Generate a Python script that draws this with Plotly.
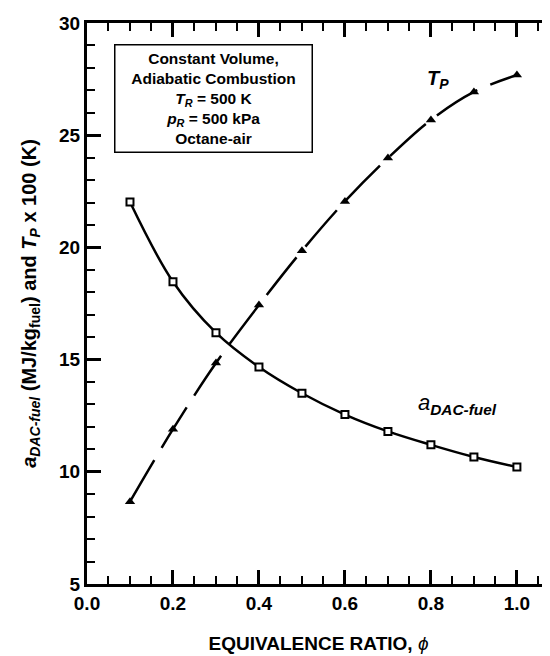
import plotly.graph_objects as go

phi = [0.1, 0.2, 0.3, 0.4, 0.5, 0.6, 0.7, 0.8, 0.9, 1.0]
a_dac_fuel = [22.02, 18.47, 16.2, 14.67, 13.5, 12.55, 11.8, 11.2, 10.66, 10.21]
tp_x100 = [8.67, 11.9, 14.85, 17.43, 19.85, 22.05, 23.98, 25.68, 26.93, 27.68]

box_lines = [
    "Constant Volume,",
    "Adiabatic Combustion",
    "<i>T</i><sub><i>R</i></sub> = 500 K",
    "<i>p</i><sub><i>R</i></sub> = 500 kPa",
    "Octane-air",
]

x_range = [0, 1.077]
y_range = [5, 30]

FONT = "Liberation Sans, Arial, Helvetica, sans-serif"

fig = go.Figure()
fig.add_trace(go.Scatter(
    x=phi, y=a_dac_fuel, mode="lines+markers",
    line=dict(color="black", width=2.5, shape="spline"),
    marker=dict(symbol="square", size=7, color="white", line=dict(color="black", width=2)),
    showlegend=False,
))
fig.add_trace(go.Scatter(
    x=phi, y=tp_x100, mode="lines+markers", yaxis="y2",
    line=dict(color="black", width=2.5, shape="spline", dash="48px,14px"),
    marker=dict(symbol="triangle-up", size=9, color="black"),
    showlegend=False,
))

axis_common = dict(
    showline=True, linecolor="black", linewidth=3,
    ticks="inside", ticklen=14, tickwidth=3, tickcolor="black",
    showgrid=False, zeroline=False, automargin=False,
    tickfont=dict(family=FONT, size=19, color="black", weight="bold"),
)

# the page body adds an 8px offset; margins compensate so the plot area
# sits at the same place as in the reference
fig.update_layout(
    width=550, height=656,
    margin=dict(l=79, r=8, t=15, b=80),
    plot_bgcolor="white", paper_bgcolor="white",
    font=dict(family=FONT, color="black"),
    xaxis=dict(
        range=x_range, dtick=0.2, tick0=0, tickformat=".1f", mirror="ticks",
        minor=dict(dtick=0.05, ticks="inside", ticklen=8, tickwidth=2, tickcolor="black"),
        title=dict(text="<b>EQUIVALENCE RATIO,</b> <i>ϕ</i>",
                   font=dict(family=FONT, size=19, color="black"), standoff=24),
        **axis_common,
    ),
    yaxis=dict(
        range=y_range, dtick=5, tick0=5, mirror=False,
        minor=dict(dtick=1, ticks="inside", ticklen=8, tickwidth=2, tickcolor="black"),
        title=dict(text="<b><i>a</i><sub><i>DAC-fuel</i></sub> (MJ/kg<sub>fuel</sub>) and <i>T</i><sub><i>P</i></sub> x 100 (K)</b>",
                   font=dict(family=FONT, size=20, color="black"), standoff=18),
        **axis_common,
    ),
    yaxis2=dict(
        range=y_range, dtick=5, tick0=5, overlaying="y", side="right", anchor="x",
        ticks="inside", ticklen=5, tickwidth=3, tickcolor="black", automargin=False,
        showticklabels=False, showline=False, showgrid=False, zeroline=False,
    ),
)

fig.add_annotation(
    xref="paper", yref="paper", x=0.0583, y=0.9626, xanchor="left", yanchor="top",
    text="<b>" + "<br>".join(box_lines) + "</b>",
    showarrow=False, align="center", valign="middle", width=186, height=96,
    font=dict(family=FONT, size=15.5, color="black"),
    bordercolor="black", borderwidth=1.5, borderpad=5, bgcolor="white",
)
fig.add_annotation(
    x=0.816, y=27.5, text="<b><i>T</i><sub><i>P</i></sub></b>", showarrow=False,
    font=dict(family=FONT, size=20, color="black"),
)
fig.add_annotation(
    x=0.862, y=13.0, text="<i>a</i><b><sub><i>DAC-fuel</i></sub></b>", showarrow=False,
    font=dict(family=FONT, size=22, color="black"),
)

fig.write_html("out.html")
